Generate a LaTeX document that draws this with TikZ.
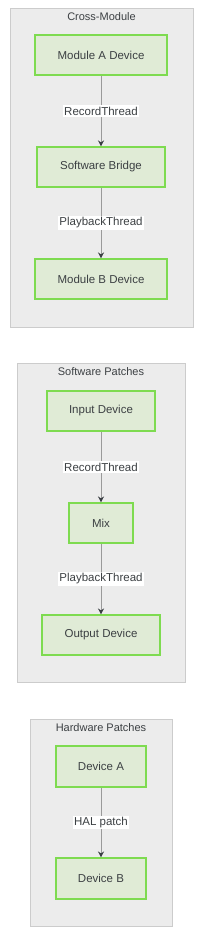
\documentclass[tikz,border=0pt]{standalone}
\usepackage{fontspec}
\setmainfont{Liberation Sans}
\usetikzlibrary{arrows.meta}
\definecolor{clfill}{HTML}{ECECEC}
\definecolor{cldraw}{HTML}{CCCCCC}
\definecolor{ndfill}{HTML}{E0EBD6}
\definecolor{nddraw}{HTML}{7EDB50}
\definecolor{txt}{HTML}{3C4043}
\definecolor{edgec}{HTML}{9A9A9A}
\definecolor{tipc}{HTML}{3A3F44}
\begin{document}
\begin{tikzpicture}[x=1pt,y=-1pt,
  cluster/.style={draw=cldraw,fill=clfill,line width=1pt},
  ttl/.style={text=txt,font=\fontsize{11}{13}\selectfont},
  dev/.style={draw=nddraw,fill=ndfill,line width=1.1pt,text=txt,font=\fontsize{11.5}{13}\selectfont,inner sep=0pt},
  lbl/.style={fill=white,text=txt,font=\fontsize{11.5}{13}\selectfont,inner sep=1.5pt},
  flow/.style={draw=edgec,line width=1pt,-{Stealth[length=6pt,width=6pt,color=tipc]}}]
\useasboundingbox (0,0) rectangle (200,940);
% clusters
\draw[cluster] (10,8) rectangle (193,327);
\node[ttl] (t1) at (101.5,17) {Cross-Module};
\draw[cluster] (17,363) rectangle (185,682);
\node[ttl] (t2) at (101,372) {Software Patches};
\draw[cluster] (30,719) rectangle (172,926);
\node[ttl] (t3) at (101,728) {Hardware Patches};
% cluster 1
\node[dev,minimum width=132pt,minimum height=40pt] (ma) at (101,55) {Module A Device};
\node[dev,minimum width=128pt,minimum height=40pt] (sb) at (101,167) {Software Bridge};
\node[dev,minimum width=132pt,minimum height=40pt] (mb) at (101,279) {Module B Device};
\draw[flow] (ma) -- node[lbl] (l1) {RecordThread} (sb);
\draw[flow] (sb) -- node[lbl] (l2) {PlaybackThread} (mb);
% cluster 2
\node[dev,minimum width=108pt,minimum height=40pt] (in) at (101,411) {Input Device};
\node[dev,minimum width=64pt,minimum height=40pt] (mix) at (101,523) {Mix};
\node[dev,minimum width=118pt,minimum height=40pt] (out) at (101,635) {Output Device};
\draw[flow] (in) -- node[lbl] (l3) {RecordThread} (mix);
\draw[flow] (mix) -- node[lbl] (l4) {PlaybackThread} (out);
% cluster 3
\node[dev,minimum width=90pt,minimum height=41pt] (da) at (101,766.5) {Device A};
\node[dev,minimum width=90pt,minimum height=41pt] (db) at (101,878.5) {Device B};
\draw[flow] (da) -- node[lbl] (l5) {HAL patch} (db);
\end{tikzpicture}
\end{document}
